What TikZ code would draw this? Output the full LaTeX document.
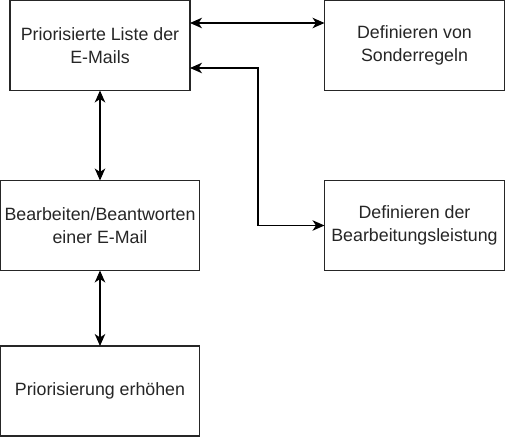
\documentclass[tikz,border=0pt]{standalone}
\usepackage{fontspec}
\setmainfont{Liberation Sans}
\usetikzlibrary{arrows.meta}
\begin{document}
\begin{tikzpicture}[x=1pt,y=-1pt,
  box/.style={draw=black!85, line width=1.4pt, fill=white, minimum width=180pt, minimum height=90pt,
    inner sep=0pt, outer sep=0pt, align=center, text=black!85,
    font=\fontsize{17.8pt}{22.5pt}\selectfont},
  arr/.style={line width=1.4pt, {Stealth[length=12pt,width=10.5pt,inset=3.5pt]}-{Stealth[length=12pt,width=10.5pt,inset=3.5pt]}}]
\useasboundingbox (0,0) rectangle (507,438);
\node[box] (a) at (100,45.5) {Priorisierte Liste der\\E-Mails};
\node[box] (b) at (414.5,45.5) {Definieren von\\Sonderregeln};
\node[box, minimum width=199pt] (c) at (100,225.5) {Bearbeiten/Beantworten\\einer E-Mail};
\node[box] (d) at (414.5,225.5) {Definieren der\\Bearbeitungsleistung};
\node[box, minimum width=199pt] (e) at (100,391) {Priorisierung erhöhen};
\draw[arr] ([yshift=22.5pt]a.east) -- ([yshift=22.5pt]a.east -| b.west);
\draw[arr] ([yshift=-22.5pt]a.east) -- ++(68,0) |- (d.west);
\draw[arr] (a.south) -- (c.north);
\draw[arr] (c.south) -- (e.north);
\end{tikzpicture}
\end{document}
